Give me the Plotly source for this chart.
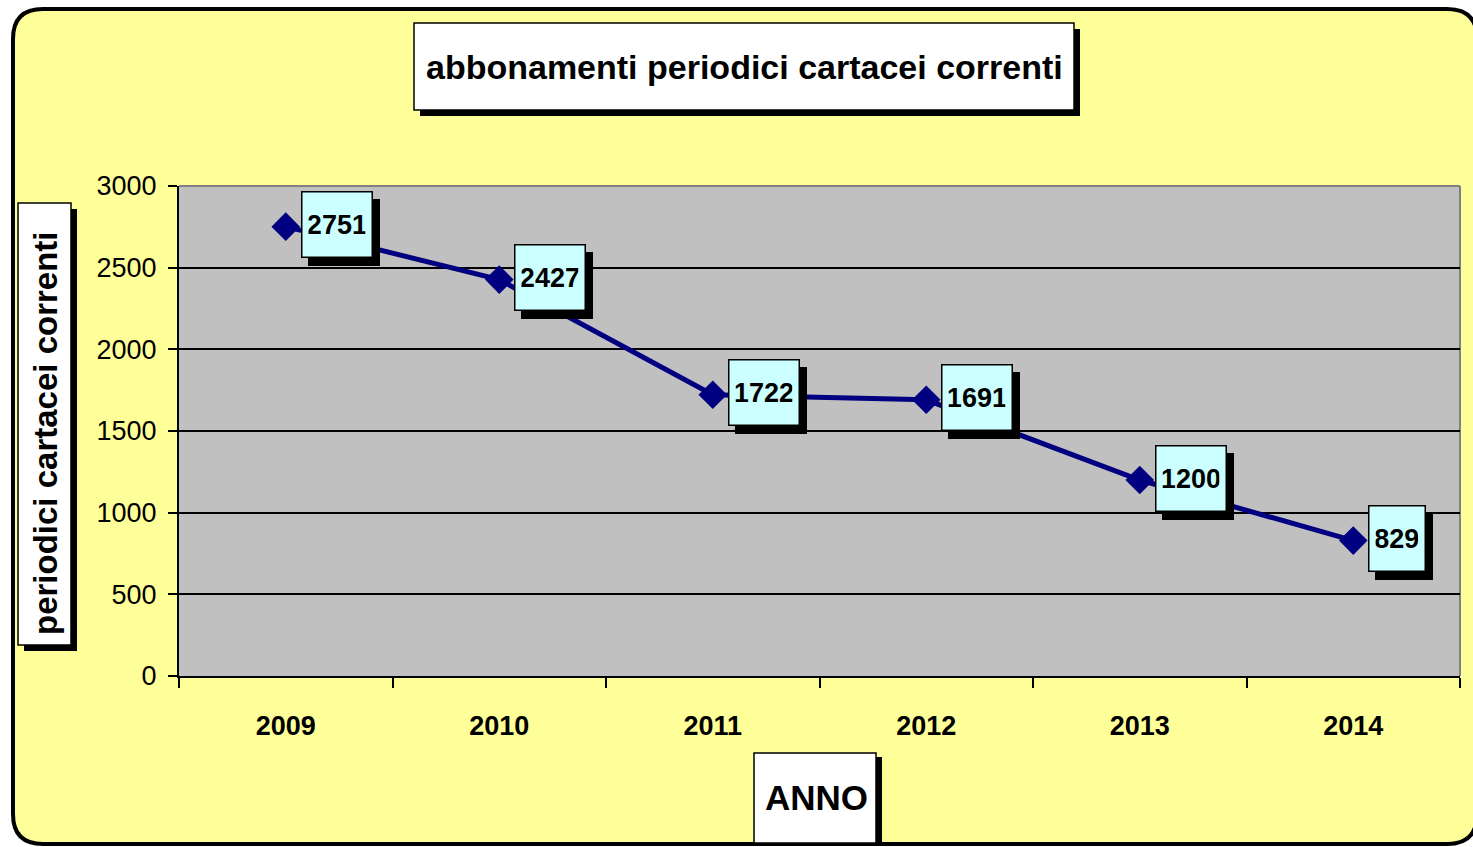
import plotly.graph_objects as go

# ---- data ----
years = ["2009", "2010", "2011", "2012", "2013", "2014"]
values = [2751, 2427, 1722, 1691, 1200, 829]
y_ticks = [0, 500, 1000, 1500, 2000, 2500, 3000]
title_text = "abbonamenti periodici cartacei correnti"
y_title = "periodici cartacei correnti"
x_title = "ANNO"

W, H = 1473, 847
L, R, T, B = 179, 1460, 186, 676
PW, PH = R - L, B - T

FONT = "Liberation Sans, Arial, Helvetica, sans-serif"


def px(x):
    return (x - L) / PW


def py(y):
    return (B - y) / PH


def rounded_path(x0, y0, x1, y1, r):
    def P(x, y):
        return f"{px(x):.5f},{py(y):.5f}"
    return (f"M {P(x0 + r, y0)} L {P(x1 - r, y0)} Q {P(x1, y0)} {P(x1, y0 + r)} "
            f"L {P(x1, y1 - r)} Q {P(x1, y1)} {P(x1 - r, y1)} "
            f"L {P(x0 + r, y1)} Q {P(x0, y1)} {P(x0, y1 - r)} "
            f"L {P(x0, y0 + r)} Q {P(x0, y0)} {P(x0 + r, y0)} Z")


def rect(x0, y0, x1, y1, fill, line="black", lw=1.5, layer="above"):
    return dict(type="rect", xref="paper", yref="paper",
                x0=px(x0), x1=px(x1), y0=py(y1), y1=py(y0),
                fillcolor=fill, line=dict(color=line, width=lw), layer=layer)


shapes = [
    dict(type="path", xref="paper", yref="paper",
         path=rounded_path(13, 9, 1477, 844, 30),
         fillcolor="#FFFF99", line=dict(color="black", width=4), layer="below"),
    dict(type="rect", xref="paper", yref="paper", x0=0, x1=1, y0=0, y1=1,
         fillcolor="#C0C0C0", line=dict(width=0), layer="below"),
    dict(type="line", xref="paper", yref="paper", x0=0, x1=1, y0=1, y1=1,
         line=dict(color="#808080", width=2), layer="below"),
    dict(type="line", xref="paper", yref="paper", x0=1, x1=1, y0=0, y1=1,
         line=dict(color="#808080", width=2), layer="below"),
    # title box
    rect(420, 29, 1080, 116, "black", lw=0),
    rect(414, 23, 1074, 110, "white", lw=1.5),
    # y title box
    rect(24, 209, 77, 651, "black", lw=0),
    rect(18, 203, 71, 645, "white", lw=1.5),
    # x title box
    rect(760, 757, 882, 844, "black", lw=0),
    rect(754, 753, 876, 843, "white", lw=1.5),
]

annotations = [
    dict(xref="paper", yref="paper", x=px(744), y=py(67), text=f"<b>{title_text}</b>",
         showarrow=False, font=dict(family=FONT, size=34, color="black"),
         xanchor="center", yanchor="middle"),
    dict(xref="paper", yref="paper", x=px(45), y=py(433), text=f"<b>{y_title}</b>",
         showarrow=False, textangle=-90, font=dict(family=FONT, size=33, color="black"),
         xanchor="center", yanchor="middle"),
    dict(xref="paper", yref="paper", x=px(816), y=py(798), text=f"<b>{x_title}</b>",
         showarrow=False, font=dict(family=FONT, size=35, color="black"),
         xanchor="center", yanchor="middle"),
]

for i, v in enumerate(values):
    t = str(v)
    w = len(t) * 14.2
    # shadow box
    annotations.append(dict(
        x=i, y=v, xref="x", yref="y", text="&nbsp;", showarrow=False,
        xanchor="left", yanchor="middle", xshift=22, yshift=-6,
        width=w, height=52, borderpad=6, borderwidth=1.5,
        bgcolor="black", bordercolor="black",
        font=dict(family=FONT, size=27, color="black"),
    ))
    # label box
    annotations.append(dict(
        x=i, y=v, xref="x", yref="y", text=f"<b>{t}</b>", showarrow=False,
        xanchor="left", yanchor="middle", xshift=15, yshift=2,
        width=w, height=52, borderpad=6, borderwidth=1.5,
        bgcolor="#CCFFFF", bordercolor="black",
        font=dict(family=FONT, size=27, color="black"),
    ))

fig = go.Figure(go.Scatter(
    x=years, y=values, mode="lines+markers",
    line=dict(color="#000080", width=5),
    marker=dict(symbol="diamond", size=22, color="#000080"),
    cliponaxis=False,
))

fig.update_layout(
    width=W, height=H,
    margin=dict(l=L, r=W - R, t=T, b=H - B, pad=0),
    paper_bgcolor="white",
    plot_bgcolor="rgba(0,0,0,0)",
    showlegend=False,
    shapes=shapes,
    annotations=annotations,
    xaxis=dict(
        type="category", tickson="boundaries", showgrid=False,
        ticks="outside", ticklen=10, tickwidth=2, tickcolor="black",
        showline=True, linecolor="black", linewidth=2,
        tickfont=dict(family=FONT, size=27, color="black", weight="bold"),
        ticklabelstandoff=25, range=[-0.5, 5.5],
    ),
    yaxis=dict(
        range=[0, 3000], tickvals=y_ticks, showgrid=True,
        gridcolor="black", gridwidth=2, zeroline=False,
        ticks="outside", ticklen=9, tickwidth=2, tickcolor="black",
        showline=True, linecolor="black", linewidth=2,
        tickfont=dict(family=FONT, size=27, color="black"),
        ticklabelstandoff=6,
    ),
)

fig.write_html(
    "out.html",
    config={"displayModeBar": False},
    post_script="document.body.style.margin='0px';document.body.style.overflow='hidden';",
)
